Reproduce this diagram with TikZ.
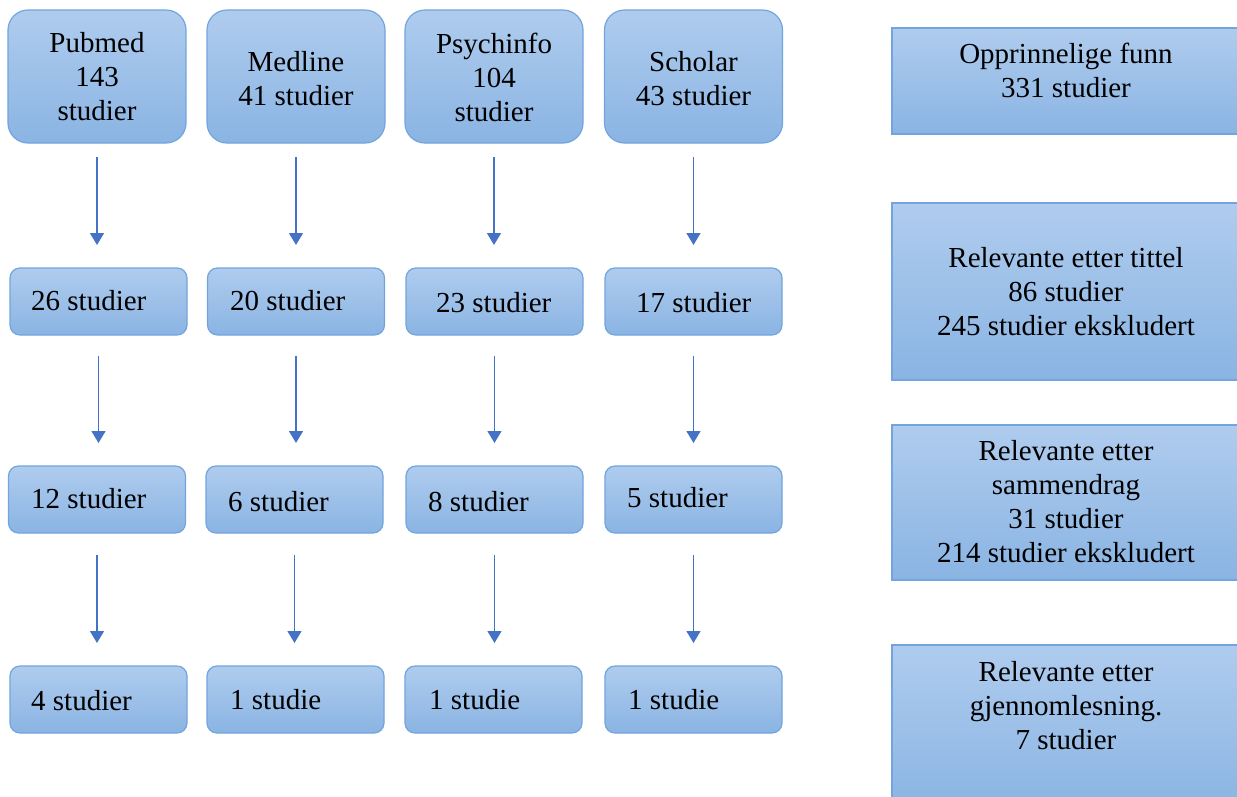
\documentclass[tikz,border=0pt]{standalone}
\usepackage{fontspec}
\setmainfont{Liberation Serif}
\usetikzlibrary{arrows.meta}
\definecolor{boxtop}{HTML}{AFCCEE}
\definecolor{boxbot}{HTML}{8AB4E3}
\definecolor{boxline}{HTML}{72A5DE}
\definecolor{arrowblue}{HTML}{4472C4}
\tikzset{
  box/.style={draw=boxline, line width=1.2pt, top color=boxtop, bottom color=boxbot,
    inner sep=0pt, outer sep=0pt},
  bigbox/.style={box, rounded corners=20pt, minimum width=178pt, minimum height=133pt},
  smallbox/.style={box, rounded corners=10pt, minimum width=177pt, minimum height=67pt},
  sidebox/.style={box, minimum width=353pt},
  txt/.style={inner sep=0pt, align=center, font=\fontsize{29}{34}\selectfont},
  ltxt/.style={inner sep=0pt, anchor=west, font=\fontsize{29}{34}\selectfont},
  flow/.style={draw=arrowblue, line width=1.4pt, -{Triangle[width=14pt,length=12pt]},
    shorten >=23pt}
}
\begin{document}
\begin{tikzpicture}[x=1pt,y=-1pt]
\clip (0,0) rectangle (1237,796);
\fill[white] (0,0) rectangle (1237,796);
% row 1
\node[bigbox] (a1) at (97,76.5) {};
\node[bigbox] (a2) at (296,76.5) {};
\node[bigbox] (a3) at (494,76.5) {};
\node[bigbox] (a4) at (693.5,76.5) {};
\node[txt] (ta1) at (97,77) {Pubmed\\143\\studier};
\node[txt] (ta2) at (296,79) {Medline\\41 studier};
\node[txt] (ta3) at (494,77) {Psychinfo\\104\\studier};
\node[txt] (ta4) at (693.5,79) {Scholar\\43 studier};
% row 2
\node[smallbox] (b1) at (98.5,301.5) {};
\node[smallbox] (b2) at (296,301.5) {};
\node[smallbox] (b3) at (494.5,301.5) {};
\node[smallbox] (b4) at (693.5,301.5) {};
\node[ltxt] (tb1) at (31,301) {26 studier};
\node[ltxt] (tb2) at (230,301) {20 studier};
\node[ltxt] (tb3) at (436,303) {23 studier};
\node[ltxt] (tb4) at (636,303) {17 studier};
% row 3
\node[smallbox] (c1) at (97,499.5) {};
\node[smallbox] (c2) at (294.5,499.5) {};
\node[smallbox] (c3) at (494.5,499.5) {};
\node[smallbox] (c4) at (693.5,499.5) {};
\node[ltxt] (tc1) at (31,499) {12 studier};
\node[ltxt] (tc2) at (228,502) {6 studier};
\node[ltxt] (tc3) at (428,502) {8 studier};
\node[ltxt] (tc4) at (627,498) {5 studier};
% row 4
\node[smallbox] (d1) at (98.5,699.5) {};
\node[smallbox] (d2) at (295.5,699.5) {};
\node[smallbox] (d3) at (493.5,699.5) {};
\node[smallbox] (d4) at (693.5,699.5) {};
\node[ltxt] (td1) at (31,701) {4 studier};
\node[ltxt] (td2) at (230,700) {1 studie};
\node[ltxt] (td3) at (429,700) {1 studie};
\node[ltxt] (td4) at (628,700) {1 studie};
% arrows
\foreach \i in {1,2,3,4}{
  \draw[flow, shorten <=14pt] (a\i.south) -- (a\i.south |- b\i.north);
  \draw[flow, shorten <=21pt] (b\i.south) -- (b\i.south |- c\i.north);
  \draw[flow, shorten <=22pt] (c\i.south) -- (c\i.south |- d\i.north);
}
% right column
\node[sidebox, minimum height=106pt] (s1) at (1068.5,81) {};
\node[sidebox, minimum height=177pt] (s2) at (1068.5,291.5) {};
\node[sidebox, minimum height=155pt] (s3) at (1068.5,502.5) {};
\node[sidebox, minimum height=165pt] (s4) at (1068.5,727.5) {};
\node[txt] (ts1) at (1066,70) {Opprinnelige funn\\331 studier};
\node[txt] (ts2) at (1066,292) {Relevante etter tittel\\86 studier\\245 studier ekskludert};
\node[txt] (ts3) at (1066,502) {Relevante etter\\sammendrag\\31 studier\\214 studier ekskludert};
\node[txt] (ts4) at (1066,706) {Relevante etter\\gjennomlesning.\\7 studier};
\end{tikzpicture}
\end{document}
